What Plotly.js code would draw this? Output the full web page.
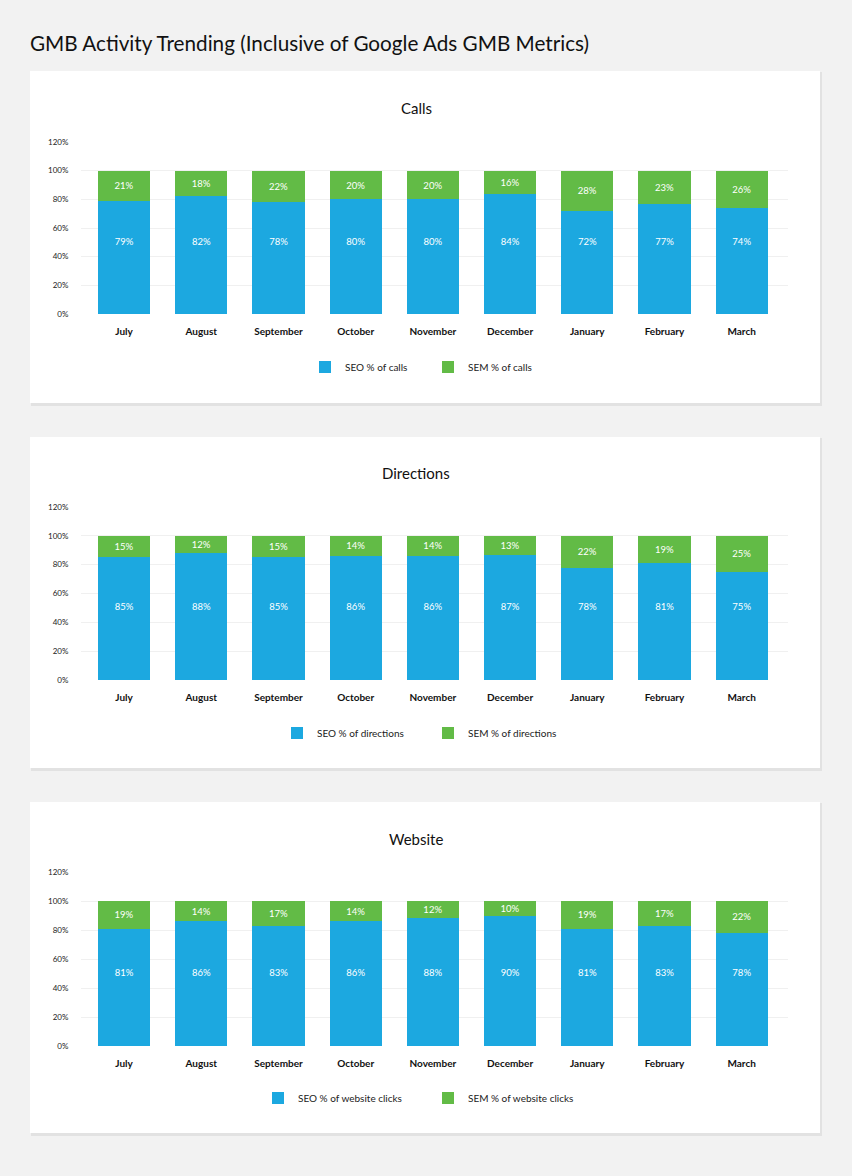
<!DOCTYPE html>
<html>
<head>
<meta charset="utf-8">
<script src="https://cdn.plot.ly/plotly-3.0.1.min.js"></script>
<style>
  html, body { margin: 0; padding: 0; background: #f2f2f2; }
  #chart { width: 852px; height: 1176px; }
</style>
</head>
<body>
<div id="chart"></div>
<script>
// months on the x axis
let months = ["July", "August", "September", "October", "November", "December", "January", "February", "March"];

// Calls
let seoCalls = [79, 82, 78, 80, 80, 84, 72, 77, 74];
let semCalls = [21, 18, 22, 20, 20, 16, 28, 23, 26];

// Directions
let seoDirections = [85, 88, 85, 86, 86, 87, 78, 81, 75];
let semDirections = [15, 12, 15, 14, 14, 13, 22, 19, 25];

// Website
let seoWebsite = [81, 86, 83, 86, 88, 90, 81, 83, 78];
let semWebsite = [19, 14, 17, 14, 12, 10, 19, 17, 22];

let yTicks = [0, 20, 40, 60, 80, 100, 120];

const W = 852, H = 1176;
const BLUE = "#1ca8e0";
const GREEN = "#62bb46";
const FONT = "Lato, 'Open Sans', sans-serif";

// pixel -> paper helpers
let px = x => x / W;
let py = y => 1 - y / H;

let panels = [
  { title: "Calls", seo: seoCalls, sem: semCalls, seoName: "SEO % of calls", semName: "SEM % of calls",
    top: 71, bottom: 403, titleY: 108, y0: 314, y120: 142, legendY: 367, entry: 78 },
  { title: "Directions", seo: seoDirections, sem: semDirections, seoName: "SEO % of directions", semName: "SEM % of directions",
    top: 437, bottom: 768, titleY: 473, y0: 680, y120: 507, legendY: 733, entry: 106 },
  { title: "Website", seo: seoWebsite, sem: semWebsite, seoName: "SEO % of website clicks", semName: "SEM % of website clicks",
    top: 802, bottom: 1133, titleY: 839, y0: 1046, y120: 872, legendY: 1098, entry: 125 },
];

let data = [];
let shapes = [];
let annotations = [];
let layout = {
  width: W,
  height: H,
  margin: { l: 0, r: 0, t: 0, b: 0 },
  paper_bgcolor: "#f2f2f2",
  plot_bgcolor: "rgba(0,0,0,0)",
  font: { family: FONT, color: "#222" },
  showlegend: true,
  barmode: "stack",
  title: {
    text: "GMB Activity Trending (Inclusive of Google Ads GMB Metrics)",
    x: px(30), xanchor: "left", xref: "paper",
    y: py(44), yanchor: "middle", yref: "paper",
    font: { family: FONT, size: 20.7, color: "#111" },
  },
};

panels.forEach((p, i) => {
  let n = i === 0 ? "" : String(i + 1);
  let xa = "x" + n, ya = "y" + n;
  let legendId = "legend" + n;

  // card shadow + card
  shapes.push({
    type: "rect", xref: "paper", yref: "paper", layer: "below",
    x0: px(31), x1: px(822), y0: py(p.bottom + 3), y1: py(p.top + 1),
    fillcolor: "#e2e2e2", line: { width: 0 },
  });
  shapes.push({
    type: "rect", xref: "paper", yref: "paper", layer: "below",
    x0: px(30), x1: px(820), y0: py(p.bottom), y1: py(p.top),
    fillcolor: "#ffffff", line: { width: 0 },
  });

  annotations.push({
    text: p.title, xref: "paper", yref: "paper",
    x: px(416), y: py(p.titleY), xanchor: "center", yanchor: "middle",
    showarrow: false, font: { family: FONT, size: 15, color: "#111" },
  });

  data.push({
    type: "bar", name: p.seoName, x: months, y: p.seo,
    xaxis: xa, yaxis: ya, legend: legendId,
    marker: { color: BLUE, line: { width: 0 } },
    width: 0.675, hoverinfo: "skip",
  });
  data.push({
    type: "bar", name: p.semName, x: months, y: p.sem,
    xaxis: xa, yaxis: ya, legend: legendId,
    marker: { color: GREEN, line: { width: 0 } },
    width: 0.675,
    text: p.sem.map(v => v + "%"),
    textposition: "inside", insidetextanchor: "middle", constraintext: "none",
    textfont: { family: FONT, size: 9.5, color: "#ffffff" },
    hoverinfo: "skip",
  });
  // SEO labels sit at mid height of the column
  data.push({
    type: "scatter", mode: "text", x: months, y: months.map(() => 50),
    text: p.seo.map(v => v + "%"),
    textfont: { family: FONT, size: 9.5, color: "#ffffff" },
    xaxis: xa, yaxis: ya, showlegend: false, hoverinfo: "skip", cliponaxis: false,
  });

  layout["xaxis" + n] = {
    domain: [px(81), px(788)],
    anchor: ya,
    type: "category",
    range: [-0.558, 8.6],
    showgrid: false, zeroline: false, showline: false,
    ticks: "outside", ticklen: 8, tickcolor: "rgba(0,0,0,0)",
    tickfont: { family: FONT, size: 10, color: "#111", weight: "bold" },
    fixedrange: true,
  };
  layout["yaxis" + n] = {
    domain: [py(p.y0), py(p.y120)],
    anchor: xa,
    range: [0, 120],
    tickvals: yTicks,
    ticktext: yTicks.map(v => v + "%"),
    showgrid: true, gridcolor: "#f0f0f0", gridwidth: 1,
    zeroline: false, showline: false,
    ticks: "outside", ticklen: 10, tickcolor: "rgba(0,0,0,0)",
    tickfont: { family: FONT, size: 8, color: "#222" },
    fixedrange: true,
  };
  layout[legendId] = {
    orientation: "h",
    traceorder: "normal",
    entrywidth: p.entry, entrywidthmode: "pixels",
    x: px(428), xanchor: "center", xref: "paper",
    y: py(p.legendY), yanchor: "middle", yref: "paper",
    bgcolor: "rgba(0,0,0,0)",
    font: { family: FONT, size: 10, color: "#222" },
    itemclick: false, itemdoubleclick: false,
  };
});

layout.shapes = shapes;
layout.annotations = annotations;

Plotly.newPlot(document.getElementById("chart"), data, layout, { displayModeBar: false, staticPlot: true });
</script>
</body>
</html>
